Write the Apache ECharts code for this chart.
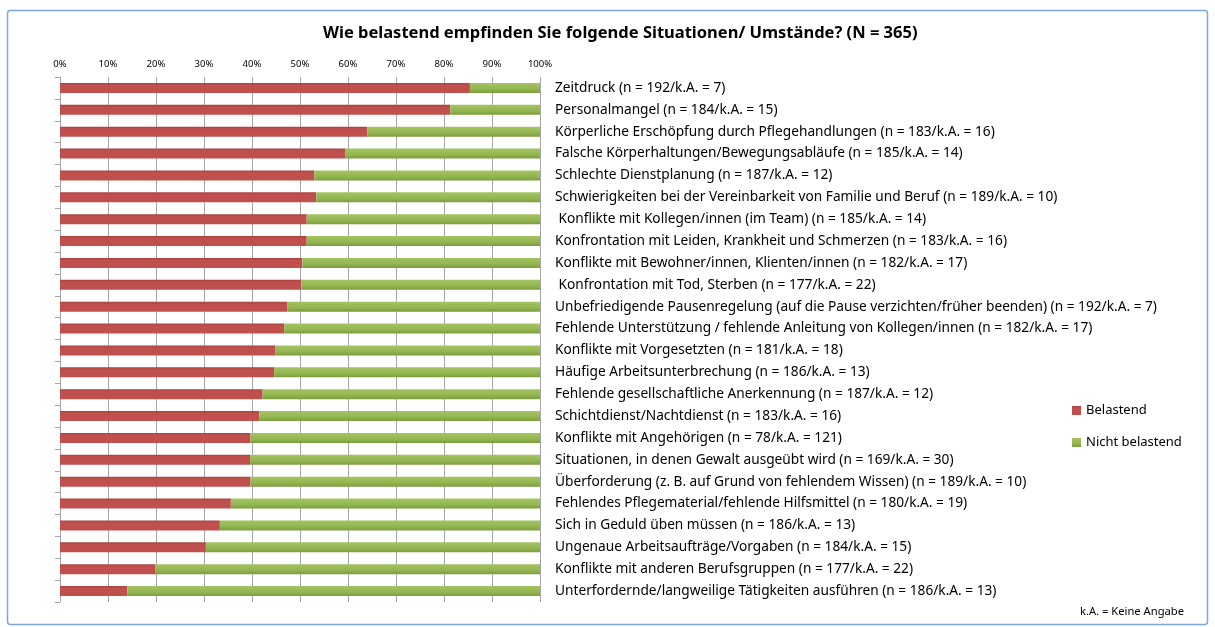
<!DOCTYPE html>
<html>
<head>
<meta charset="utf-8">
<script src="https://cdn.jsdelivr.net/npm/echarts@6/dist/echarts.min.js"></script>
<style>
  html, body { margin: 0; padding: 0; background: #fff; }
  #chart { width: 1215px; height: 627px; }
</style>
</head>
<body>
<div id="chart"></div>
<script>
const categories = [
  'Zeitdruck (n = 192/k.A. = 7)',
  'Personalmangel (n = 184/k.A. = 15)',
  'Körperliche Erschöpfung durch Pflegehandlungen (n = 183/k.A. = 16)',
  'Falsche Körperhaltungen/Bewegungsabläufe (n = 185/k.A. = 14)',
  'Schlechte Dienstplanung (n = 187/k.A. = 12)',
  'Schwierigkeiten bei der Vereinbarkeit von Familie und Beruf (n = 189/k.A. = 10)',
  ' Konflikte mit Kollegen/innen (im Team) (n = 185/k.A. = 14)',
  'Konfrontation mit Leiden, Krankheit und Schmerzen (n = 183/k.A. = 16)',
  'Konflikte mit Bewohner/innen, Klienten/innen (n = 182/k.A. = 17)',
  ' Konfrontation mit Tod, Sterben (n = 177/k.A. = 22)',
  'Unbefriedigende Pausenregelung (auf die Pause verzichten/früher beenden) (n = 192/k.A. = 7)',
  'Fehlende Unterstützung / fehlende Anleitung von Kollegen/innen (n = 182/k.A. = 17)',
  'Konflikte mit Vorgesetzten (n = 181/k.A. = 18)',
  'Häufige Arbeitsunterbrechung (n = 186/k.A. = 13)',
  'Fehlende gesellschaftliche Anerkennung (n = 187/k.A. = 12)',
  'Schichtdienst/Nachtdienst (n = 183/k.A. = 16)',
  'Konflikte mit Angehörigen (n = 78/k.A. = 121)',
  'Situationen, in denen Gewalt ausgeübt wird (n = 169/k.A. = 30)',
  'Überforderung (z. B. auf Grund von fehlendem Wissen) (n = 189/k.A. = 10)',
  'Fehlendes Pflegematerial/fehlende Hilfsmittel (n = 180/k.A. = 19)',
  'Sich in Geduld üben müssen (n = 186/k.A. = 13)',
  'Ungenaue Arbeitsaufträge/Vorgaben (n = 184/k.A. = 15)',
  'Konflikte mit anderen Berufsgruppen (n = 177/k.A. = 22)',
  'Unterfordernde/langweilige Tätigkeiten ausführen (n = 186/k.A. = 13)'
]

// Anteile in Prozent
const belastend = [85.4, 81.3, 64.0, 59.5, 53.0, 53.4, 51.4, 51.4, 50.5, 50.3, 47.4, 46.7,
  44.8, 44.6, 42.2, 41.5, 39.7, 39.6, 39.7, 35.6, 33.3, 30.4, 19.8, 14.0]
const nichtBelastend = [14.6, 18.7, 36.0, 40.5, 47.0, 46.6, 48.6, 48.6, 49.5, 49.7, 52.6, 53.3,
  55.2, 55.4, 57.8, 58.5, 60.3, 60.4, 60.3, 64.4, 66.7, 69.6, 80.2, 86.0]

const xTicks = [0, 10, 20, 30, 40, 50, 60, 70, 80, 90, 100]

const chart = echarts.init(document.getElementById('chart'))

const font = 'Noto Sans'

chart.setOption({
  backgroundColor: '#fff',
  title: {
    text: 'Wie belastend empfinden Sie folgende Situationen/ Umstände? (N = 365)',
    left: 318,
    top: 20,
    textStyle: { fontFamily: font, fontSize: 16.5, fontWeight: 'bold', color: '#000' }
  },
  graphic: [
    {
      type: 'rect',
      shape: { x: 7.5, y: 10.5, width: 1200, height: 614, r: 3 },
      style: { fill: 'none', stroke: '#7ea6d8', lineWidth: 1.5 },
      silent: true
    },
    {
      type: 'text',
      left: 1080,
      top: 606,
      style: { text: 'k.A. = Keine Angabe', fontFamily: font, fontSize: 11.2, fill: '#000' }
    }
  ],
  legend: {
    orient: 'vertical',
    left: 1067,
    top: 399,
    itemGap: 19,
    itemWidth: 9,
    itemHeight: 9,
    icon: 'rect',
    textStyle: { fontFamily: font, fontSize: 13, color: '#000' },
    data: ['Belastend', 'Nicht belastend']
  },
  grid: {
    left: 60,
    right: 675,
    top: 77,
    bottom: 25
  },
  xAxis: {
    type: 'value',
    position: 'top',
    min: 0,
    max: 100,
    interval: 10,
    axisLine: { show: false },
    axisTick: { show: false },
    axisLabel: {
      fontFamily: font,
      fontSize: 9.5,
      color: '#000',
      margin: 8,
      formatter: v => xTicks.includes(v) ? v + '%' : ''
    },
    splitLine: { show: true, lineStyle: { color: '#a6a6a6', width: 1 } }
  },
  yAxis: [
    {
      type: 'category',
      data: categories,
      inverse: true,
      position: 'right',
      axisLine: { show: false },
      axisTick: { show: false },
      axisLabel: {
        fontFamily: font,
        fontSize: 13.7,
        color: '#000',
        margin: 15,
        align: 'left'
      }
    },
    {
      type: 'category',
      data: categories,
      inverse: true,
      position: 'left',
      axisLine: { show: true, lineStyle: { color: '#a6a6a6' } },
      axisTick: { show: true, length: 5, lineStyle: { color: '#a6a6a6' } },
      axisLabel: { show: false }
    }
  ],
  series: [
    {
      name: 'Belastend',
      type: 'bar',
      stack: 'total',
      barWidth: 10,
      data: belastend,
      itemStyle: {
        color: new echarts.graphic.LinearGradient(0, 0, 0, 1, [
          { offset: 0, color: '#a84441' },
          { offset: 0.25, color: '#c0504d' },
          { offset: 1, color: '#c0504d' }
        ])
      }
    },
    {
      name: 'Nicht belastend',
      type: 'bar',
      stack: 'total',
      barWidth: 10,
      data: nichtBelastend,
      itemStyle: {
        color: new echarts.graphic.LinearGradient(0, 0, 0, 1, [
          { offset: 0, color: '#a4c460' },
          { offset: 0.6, color: '#93b652' },
          { offset: 1, color: '#7c9d3c' }
        ])
      }
    }
  ]
})
</script>
</body>
</html>
